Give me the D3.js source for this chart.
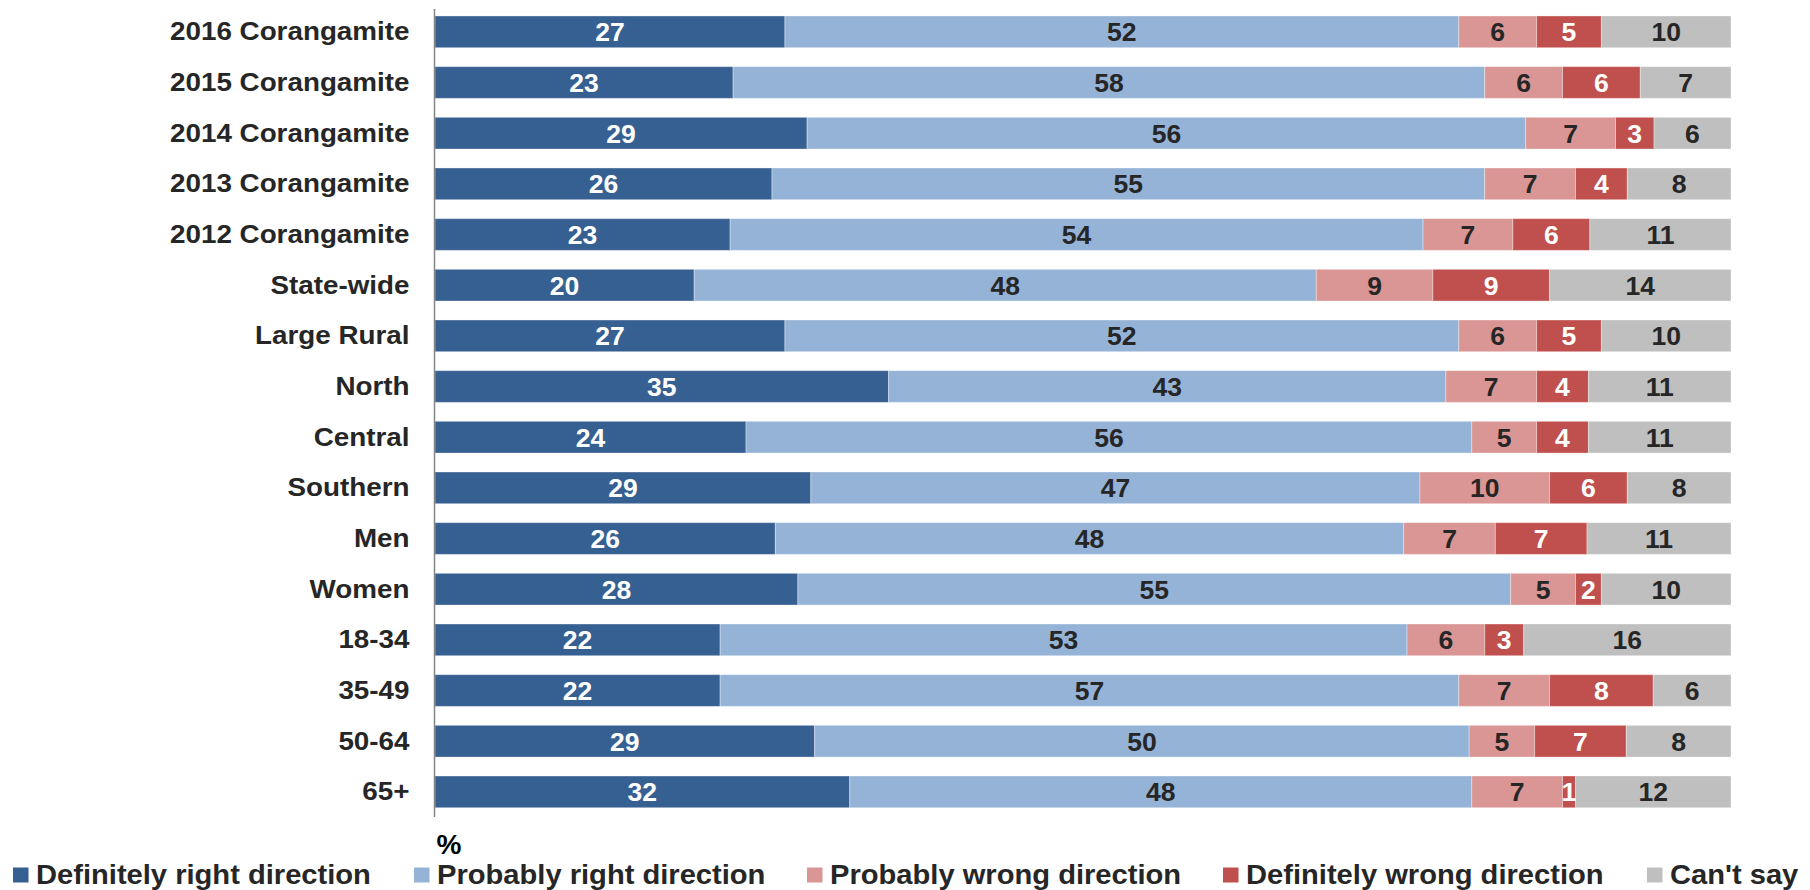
<!DOCTYPE html>
<html>
<head>
<meta charset="utf-8">
<script src="https://cdn.jsdelivr.net/npm/d3@7"></script>
<style>
  html, body { margin: 0; padding: 0; background: #ffffff; }
  svg { display: block; font-family: "Liberation Sans", Arial, sans-serif; font-weight: bold; }
</style>
</head>
<body>
<svg id="chart" width="1810" height="890"></svg>
<script>
// Row labels, top to bottom
const categories = [
  "2016 Corangamite", "2015 Corangamite", "2014 Corangamite", "2013 Corangamite",
  "2012 Corangamite", "State-wide", "Large Rural", "North", "Central", "Southern",
  "Men", "Women", "18-34", "35-49", "50-64", "65+"
];

// Response series (percent)
const seriesNames = [
  "Definitely right direction", "Probably right direction",
  "Probably wrong direction", "Definitely wrong direction", "Can't say"
];
const definitelyRight = [27, 23, 29, 26, 23, 20, 27, 35, 24, 29, 26, 28, 22, 22, 29, 32];
const probablyRight   = [52, 58, 56, 55, 54, 48, 52, 43, 56, 47, 48, 55, 53, 57, 50, 48];
const probablyWrong   = [ 6,  6,  7,  7,  7,  9,  6,  7,  5, 10,  7,  5,  6,  7,  5,  7];
const definitelyWrong = [ 5,  6,  3,  4,  6,  9,  5,  4,  4,  6,  7,  2,  3,  8,  7,  1];
const cantSay         = [10,  7,  6,  8, 11, 14, 10, 11, 11,  8, 11, 10, 16,  6,  8, 12];

const colors    = ["#376092", "#95B3D7", "#DA9694", "#C0504D", "#BFBFBF"];
const textFills = ["#ffffff", "#262626", "#262626", "#ffffff", "#262626"];

// Build row objects for the stack layout
const seriesValues = [definitelyRight, probablyRight, probablyWrong, definitelyWrong, cantSay];
const rows = categories.map((c, i) => {
  const r = { category: c };
  seriesNames.forEach((s, k) => { r[s] = seriesValues[k][i]; });
  return r;
});

// Each bar fills the full width (shares of the row total)
const stacked = d3.stack()
  .keys(seriesNames)
  .offset(d3.stackOffsetExpand)(rows);

const svg = d3.select("#chart");

const x = d3.scaleLinear().domain([0, 1]).range([435, 1731]);
const y = d3.scaleBand()
  .domain(categories)
  .range([6.5, 817.2])
  .paddingInner(0.374)
  .paddingOuter(0.187);

// Horizontally widen text to the given factor
function stretch(sel, k) {
  sel.each(function () {
    const w = this.getComputedTextLength();
    this.setAttribute("textLength", (w * k).toFixed(1));
    this.setAttribute("lengthAdjust", "spacingAndGlyphs");
  });
}

// Bars
const layer = svg.append("g").selectAll("g")
  .data(stacked)
  .join("g")
  .attr("fill", (d, i) => colors[i]);

layer.selectAll("rect")
  .data(d => d.map(p => ({ p, key: d.key })))
  .join("rect")
  .attr("x", d => x(d.p[0]))
  .attr("y", d => y(d.p.data.category))
  .attr("width", d => Math.max(0, x(d.p[1]) - x(d.p[0])))
  .attr("height", y.bandwidth())
  .attr("stroke", "rgba(255,255,255,0.35)")
  .attr("stroke-width", 1);

// Value labels inside segments
stacked.forEach((s, k) => {
  const t = svg.append("g").selectAll("text")
    .data(s)
    .join("text")
    .attr("x", d => (x(d[0]) + x(d[1])) / 2)
    .attr("y", d => y(d.data.category) + y.bandwidth() / 2 + 9.5)
    .attr("text-anchor", "middle")
    .attr("font-size", 26)
    .attr("fill", textFills[k])
    .text(d => d.data[s.key]);
  stretch(t, 1.02);
});

// Category axis
const yAxis = svg.append("g")
  .attr("transform", "translate(434.5,0)")
  .call(d3.axisLeft(y).tickSize(0).tickPadding(25));
yAxis.select(".domain").attr("stroke", "#868686").attr("stroke-width", 1.5)
  .attr("d", "M0,9V817");
yAxis.selectAll("text")
  .attr("font-size", 25.5)
  .attr("font-family", "'Liberation Sans', Arial, sans-serif")
  .attr("font-weight", "bold")
  .attr("fill", "#262626")
  .attr("dy", null)
  .attr("y", 8.5);
stretch(yAxis.selectAll("text"), 1.09);

// Unit label under the axis
svg.append("text")
  .attr("x", 436.5)
  .attr("y", 853.5)
  .attr("font-size", 28)
  .attr("fill", "#000000")
  .text("%");

// Legend
const legendX = [13, 414, 807, 1223, 1647];
const legend = svg.append("g").selectAll("g")
  .data(seriesNames)
  .join("g")
  .attr("transform", (d, i) => `translate(${legendX[i]},0)`);
legend.append("rect")
  .attr("x", 0).attr("y", 867.5)
  .attr("width", 15.5).attr("height", 15)
  .attr("fill", (d, i) => colors[i]);
const legendText = legend.append("text")
  .attr("x", 23)
  .attr("y", 883.5)
  .attr("font-size", 28)
  .attr("fill", "#262626")
  .text(d => d);
stretch(legendText, 1.04);
</script>
</body>
</html>
